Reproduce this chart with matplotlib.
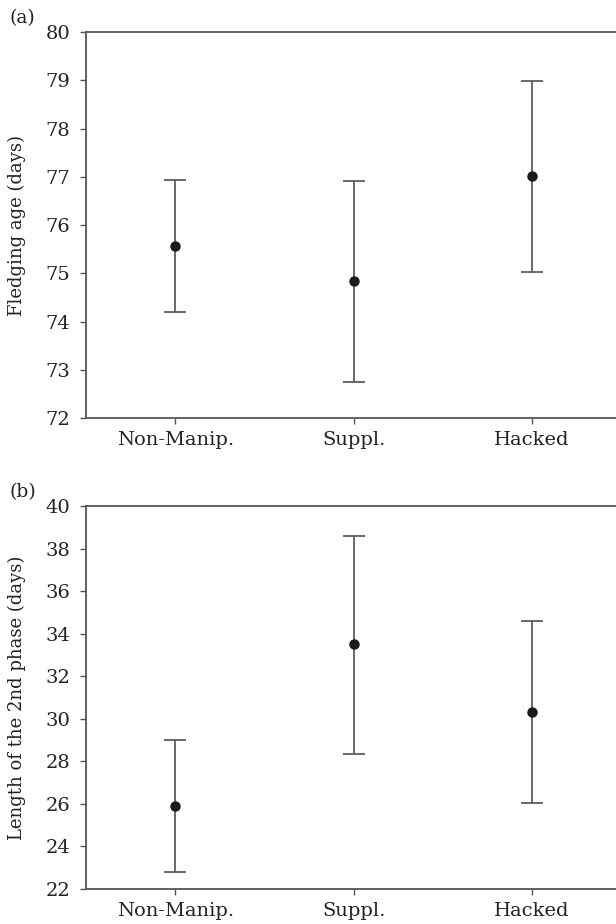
import matplotlib.pyplot as plt

# Data
groups = ["Non-Manip.", "Suppl.", "Hacked"]

fledge_mean = [75.57, 74.83, 77.02]
fledge_low = [74.20, 72.75, 75.03]
fledge_high = [76.93, 76.92, 78.98]

phase_mean = [25.9, 33.5, 30.3]
phase_low = [22.8, 28.35, 26.05]
phase_high = [29.0, 38.6, 34.6]

plt.rcParams['font.family'] = ['DejaVu Serif']
plt.rcParams['mathtext.fontset'] = 'dejavuserif'

GRAY = "#5e5e5e"
SPINE = "#555555"

fig = plt.figure(figsize=(6.16, 9.24), dpi=100)
ax_a = fig.add_axes([0.1396, 0.5476, 0.8604, 0.4177])
ax_b = fig.add_axes([0.1396, 0.0379, 0.8604, 0.4145])


def draw(ax, mean, low, high, ylim, yticks, ylabel, tag):
    x = list(range(len(groups)))
    err = [[m - l for m, l in zip(mean, low)],
           [h - m for m, h in zip(mean, high)]]
    ax.errorbar(x, mean, yerr=err, fmt='o', color='#1a1a1a', ms=6.5,
                ecolor=GRAY, elinewidth=1.3, capsize=8, capthick=1.3, zorder=3)
    ax.set_xlim(-0.5, 2.47)
    ax.set_ylim(*ylim)
    ax.set_yticks(yticks)
    ax.set_xticks(x)
    ax.set_xticklabels(groups)
    ax.spines['right'].set_visible(False)
    for s in ['left', 'top', 'bottom']:
        ax.spines[s].set_color(SPINE)
        ax.spines[s].set_linewidth(1.3)
    ax.tick_params(axis='both', direction='out', length=4.5, width=1,
                   color=SPINE, labelsize=14, labelcolor='#222222')
    ax.tick_params(axis='y', pad=7)
    ax.tick_params(axis='x', pad=5)
    ax.set_ylabel(ylabel, fontsize=13, color='#222222', labelpad=14)
    ax.text(-0.145, 1.035, tag, transform=ax.transAxes, fontsize=13.5,
            color='#222222', ha='left', va='center')


draw(ax_a, fledge_mean, fledge_low, fledge_high, (72, 80), range(72, 81),
     "Fledging age (days)", "(a)")
draw(ax_b, phase_mean, phase_low, phase_high, (22, 40), range(22, 41, 2),
     "Length of the 2nd phase (days)", "(b)")

fig.savefig("out.png", dpi=100)
